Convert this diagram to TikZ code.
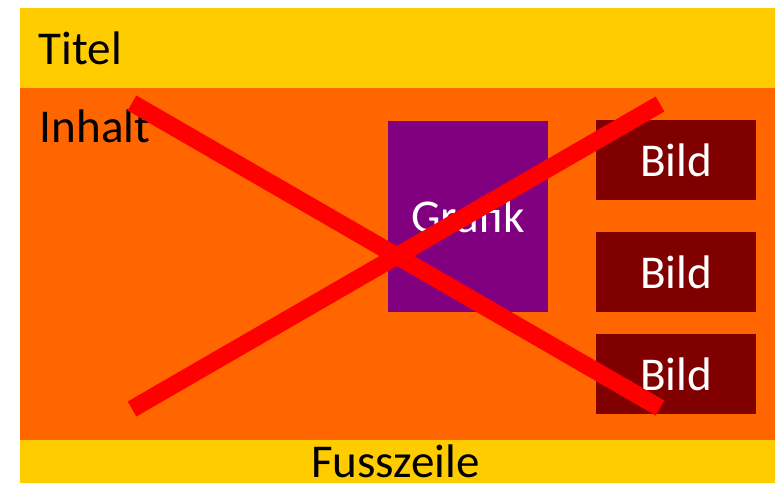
\documentclass[tikz,border=0pt]{standalone}
\usepackage{fontspec}
\setmainfont{Carlito}
\definecolor{bandyellow}{HTML}{FFCC00}
\definecolor{contentorange}{HTML}{FF6600}
\definecolor{grafikpurple}{HTML}{800080}
\definecolor{bildred}{HTML}{800000}
\definecolor{crossred}{HTML}{FF0000}
\begin{document}
\begin{tikzpicture}[x=0.75pt,y=-0.75pt,
  band/.style={fill=bandyellow,draw=none},
  area/.style={fill=contentorange,draw=none},
  lbl/.style={font=\fontsize{35.3pt}{40pt}\selectfont,text=black,inner sep=0pt},
  boxtext/.style={font=\fontsize{35.3pt}{40pt}\selectfont,text=white,inner sep=0pt,
    minimum width=120pt,minimum height=60pt,draw=none},
  grafikbox/.style={boxtext,fill=grafikpurple,minimum height=143.25pt},
  bildbox/.style={boxtext,fill=bildred},
  crossline/.style={draw=crossred,line width=13pt,line cap=butt}]
\useasboundingbox[fill=white] (0,0) rectangle (775,483);
% bands
\fill[band] (20,8) rectangle (775,88);
\fill[area] (20,88) rectangle (775,440);
\fill[band] (20,440) rectangle (775,483);
% labels
\node[lbl,anchor=base west] (titel) at (38.5,64) {Titel};
\node[lbl,anchor=base west] (inhalt) at (39.5,142) {Inhalt};
\node[lbl,anchor=base] (fuss) at (395.5,477) {Fusszeile};
% boxes
\node[grafikbox] (grafik) at (468,216.5) {Grafik};
\node[bildbox] (bild1) at (676,160) {Bild};
\node[bildbox] (bild2) at (676,272) {Bild};
\node[bildbox] (bild3) at (676,374) {Bild};
% cross
\coordinate (c1) at (132,103);
\coordinate (c2) at (660,408);
\coordinate (c3) at (132,409);
\coordinate (c4) at (660,104);
\draw[crossline] (c1) -- (c2);
\draw[crossline] (c3) -- (c4);
\end{tikzpicture}
\end{document}
